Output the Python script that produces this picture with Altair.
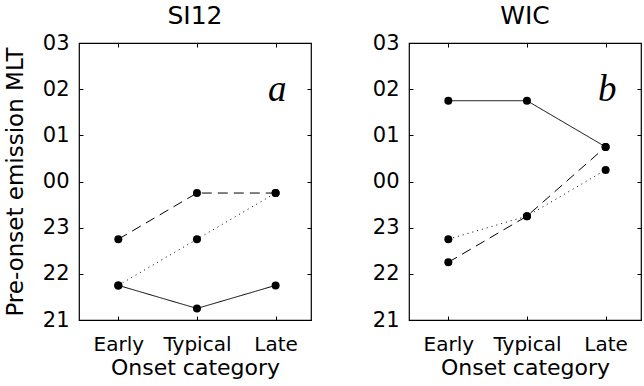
import altair as alt
import pandas as pd

categories = ["Early", "Typical", "Late"]
mlt_ticks = [21, 22, 23, 24, 25, 26, 27]

si12_solid = [21.75, 21.25, 21.75]
si12_dashed = [22.75, 23.75, 23.75]
si12_dotted = [21.75, 22.75, 23.75]

wic_solid = [25.75, 25.75, 24.75]
wic_dashed = [22.25, 23.25, 24.75]
wic_dotted = [22.75, 23.25, 24.25]

series_names = ["solid", "dashed", "dotted"]
panel_names = ["SI12", "WIC"]
panel_letters = ["a", "b"]

panels = {
    "SI12": [si12_solid, si12_dashed, si12_dotted],
    "WIC": [wic_solid, wic_dashed, wic_dotted],
}

rows = []
for pname, sers in panels.items():
    for sname, vals in zip(series_names, sers):
        for i, v in enumerate(vals):
            rows.append({"panel": pname, "series": sname, "idx": i, "mlt": v})
df = pd.DataFrame(rows)
letters_df = pd.DataFrame({"panel": panel_names, "letter": panel_letters})

FONT = "DejaVu Sans"
cat_expr = "[" + ",".join("'%s'" % c for c in categories) + "][datum.value]"
mlt_expr = "datum.value >= 24 ? '0' + (datum.value - 24) : '' + datum.value"

xscale = alt.Scale(domain=[-0.5, 2.45], nice=False, zero=False)
yscale = alt.Scale(domain=[21, 27], nice=False, zero=False)


def panel(pname, ytitle):
    d = df[df.panel == pname]
    base = alt.Chart(d)
    axis_x_main = alt.Axis(orient="bottom", values=[0, 1, 2], labelExpr=cat_expr,
                           title="Onset category", offset=-4, tickSize=4, domain=False,
                           grid=False, labelPadding=14, titlePadding=3, zindex=1,
                           labelFont=FONT, titleFont=FONT, labelFontSize=20,
                           titleFontSize=22, titleFontWeight="normal",
                           labelColor="black", titleColor="black", tickColor="black")
    y_kwargs = dict(orient="left", values=mlt_ticks, labelExpr=mlt_expr, zindex=1,
                    offset=-4, tickSize=4, domain=False, grid=False, labelPadding=10,
                    labelFont=FONT, labelFontSize=21, labelColor="black",
                    tickColor="black", titleFont=FONT, titleFontSize=23,
                    titleFontWeight="normal", titleColor="black", titlePadding=15)
    if ytitle:
        axis_y_main = alt.Axis(title=ytitle, **y_kwargs)
    else:
        axis_y_main = alt.Axis(title=None, **y_kwargs)

    lines = base.mark_line(color="black", strokeWidth=1).encode(
        x=alt.X("idx:Q", scale=xscale, axis=axis_x_main),
        y=alt.Y("mlt:Q", scale=yscale, axis=axis_y_main),
        strokeDash=alt.StrokeDash("series:N", scale=alt.Scale(
            domain=series_names, range=[[1, 0], [10, 6], [1, 4]]), legend=None),
        detail="series:N",
    )
    points = base.mark_circle(color="black", size=64, opacity=1).encode(
        x=alt.X("idx:Q", scale=xscale, axis=alt.Axis(
            orient="top", values=[0, 1, 2], labels=False, title=None, offset=-4, zindex=1,
            tickSize=4, domain=False, grid=False, tickColor="black")),
        y=alt.Y("mlt:Q", scale=yscale, axis=alt.Axis(
            orient="right", values=mlt_ticks, labels=False, title=None, offset=-4, zindex=1,
            tickSize=4, domain=False, grid=False, tickColor="black")),
    )
    txt = alt.Chart(letters_df[letters_df.panel == pname]).mark_text(
        font="Liberation Serif", fontStyle="italic", fontSize=37,
        color="black", baseline="alphabetic", align="center").encode(
        x=alt.XDatum(2.02, axis=None, scale=xscale),
        y=alt.YDatum(25.74, axis=None, scale=yscale),
        text="letter:N",
    )
    return alt.layer(lines, points, txt).resolve_axis(x="independent", y="independent").properties(
        width=232, height=277,
        view=alt.ViewBackground(stroke="black", strokeWidth=1.2),
        title=alt.TitleParams(pname, font=FONT, fontSize=25, fontWeight="normal",
                              color="black", offset=3),
    )


chart = alt.hconcat(panel(panel_names[0], "Pre-onset emission MLT"),
                    panel(panel_names[1], None), spacing=58).properties(
    padding={"left": 3, "top": 3, "right": 0, "bottom": 0},
    background="white",
).configure_view(stroke="black", strokeWidth=1.2)

chart.save("out.html", embed_options={"renderer": "svg", "actions": False})
